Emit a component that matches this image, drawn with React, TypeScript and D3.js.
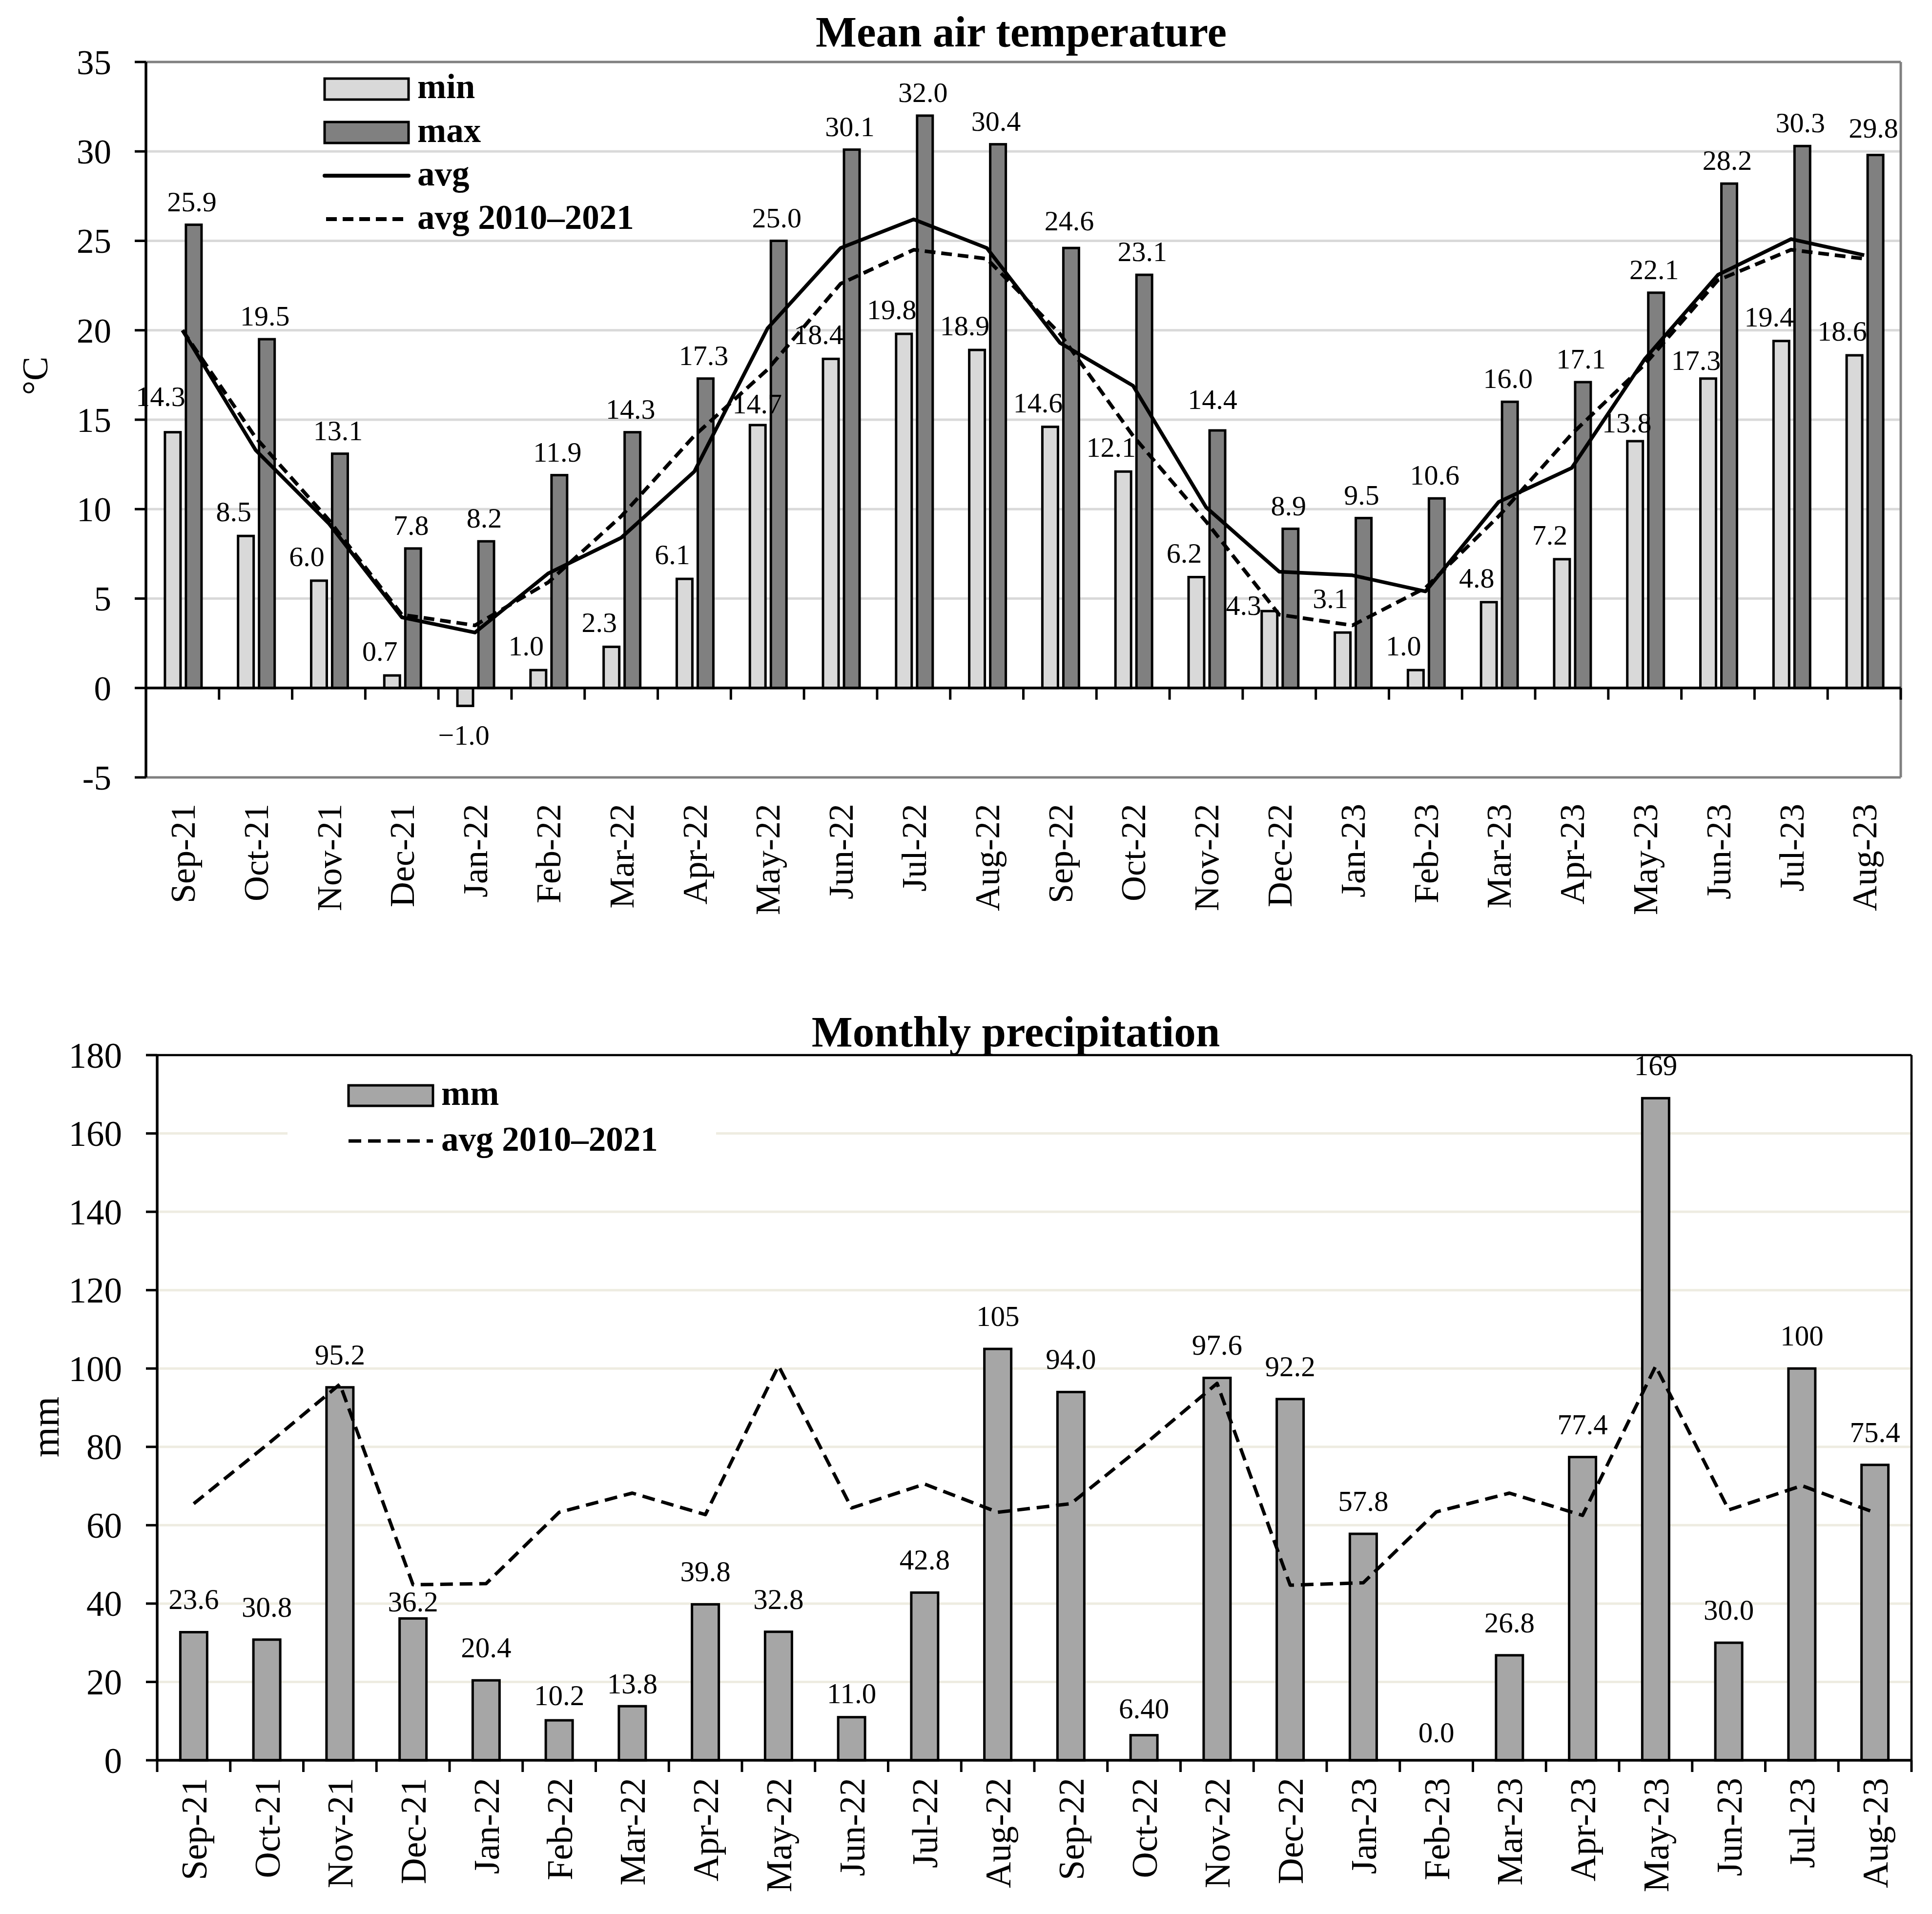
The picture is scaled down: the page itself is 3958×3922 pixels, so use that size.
import React from "react";
import * as d3 from "d3";

// ---------- DATA ----------
const categories = [
  "Sep-21", "Oct-21", "Nov-21", "Dec-21", "Jan-22", "Feb-22", "Mar-22", "Apr-22",
  "May-22", "Jun-22", "Jul-22", "Aug-22", "Sep-22", "Oct-22", "Nov-22", "Dec-22",
  "Jan-23", "Feb-23", "Mar-23", "Apr-23", "May-23", "Jun-23", "Jul-23", "Aug-23",
];

const tempMin = [14.3, 8.5, 6.0, 0.7, -1.0, 1.0, 2.3, 6.1, 14.7, 18.4, 19.8, 18.9, 14.6, 12.1, 6.2, 4.3, 3.1, 1.0, 4.8, 7.2, 13.8, 17.3, 19.4, 18.6];
const tempMax = [25.9, 19.5, 13.1, 7.8, 8.2, 11.9, 14.3, 17.3, 25.0, 30.1, 32.0, 30.4, 24.6, 23.1, 14.4, 8.9, 9.5, 10.6, 16.0, 17.1, 22.1, 28.2, 30.3, 29.8];
const tempAvg = [20.0, 13.3, 9.2, 3.95, 3.1, 6.4, 8.4, 12.1, 20.1, 24.6, 26.2, 24.6, 19.3, 16.9, 10.1, 6.5, 6.3, 5.4, 10.4, 12.3, 18.4, 23.1, 25.1, 24.2];
const tempAvgLong = [20.0, 14.0, 9.4, 4.1, 3.5, 5.9, 9.6, 14.1, 17.8, 22.6, 24.5, 24.0, 19.8, 14.1, 9.3, 4.1, 3.5, 5.6, 9.6, 14.2, 18.1, 22.8, 24.5, 24.0];
const tempTicks = [-5, 0, 5, 10, 15, 20, 25, 30, 35];

const precip = [32.7, 30.8, 95.2, 36.2, 20.4, 10.2, 13.8, 39.8, 32.8, 11.0, 42.8, 105, 94.0, 6.4, 97.6, 92.2, 57.8, 0, 26.8, 77.4, 169, 30.0, 100, 75.4];
const precipLabels = ["23.6", "30.8", "95.2", "36.2", "20.4", "10.2", "13.8", "39.8", "32.8", "11.0", "42.8", "105", "94.0", "6.40", "97.6", "92.2", "57.8", "0.0", "26.8", "77.4", "169", "30.0", "100", "75.4"];
const precipAvgLong = [65.5, 80.5, 96.0, 44.8, 45.1, 63.3, 68.2, 62.7, 100.7, 64.4, 70.5, 63.3, 65.5, 80.5, 96.2, 44.7, 45.3, 63.4, 68.2, 62.5, 100.6, 63.9, 70.1, 63.2];
const precipTicks = [0, 20, 40, 60, 80, 100, 120, 140, 160, 180];

// ---------- LAYOUT / STYLE ----------
const W = 3958;
const H = 3922;
const FONT = "'Liberation Serif', 'Times New Roman', serif";

const T = { x0: 299, x1: 3894, yTop: 127, yBot: 1593 };
const P = { x0: 322, x1: 3916, yTop: 2162, yBot: 3607 };

// label nudges (layout only)
const minNudge: Record<number, [number, number]> = { 0: [0, -24], 8: [24, 6], 15: [-28, 38], 16: [0, -20], 20: [8, 12], 21: [0, 12] };
const maxNudge: Record<number, [number, number]> = { 14: [-6, -16], 12: [0, -8], 23: [0, -8] };
const precipNudge: Record<number, number> = { 3: 33, 5: 16, 6: 21, 9: 18, 13: 12, 17: 10 };

const fmt = (v: number) => (v < 0 ? "\u2212" + Math.abs(v).toFixed(1) : v.toFixed(1));

function TempChart() {
  const x = d3.scaleBand<string>().domain(categories).range([T.x0, T.x1]).padding(0);
  const y = d3.scaleLinear().domain([-5, 35]).range([T.yBot, T.yTop]);
  const bw = x.bandwidth();
  const cx = (i: number) => (x(categories[i]) as number) + bw / 2;
  const barW = 32;
  const line = d3.line<number>().x((_, i) => cx(i)).y((d) => y(d));

  return (
    <g>
      <text x={2092} y={95} textAnchor="middle" fontFamily={FONT} fontWeight="bold" fontSize={89}>
        Mean air temperature
      </text>
      {/* gridlines */}
      {tempTicks.filter((t) => t > 0 && t < 35).map((t) => (
        <line key={t} x1={T.x0} x2={T.x1} y1={y(t)} y2={y(t)} stroke="#d9d9d9" strokeWidth={5} />
      ))}
      {/* frame */}
      <line x1={T.x0} x2={T.x1} y1={y(35)} y2={y(35)} stroke="#808080" strokeWidth={5} />
      <line x1={T.x0} x2={T.x1} y1={y(-5)} y2={y(-5)} stroke="#808080" strokeWidth={5} />
      <line x1={T.x1} x2={T.x1} y1={y(35)} y2={y(-5)} stroke="#808080" strokeWidth={5} />
      {/* bars */}
      {tempMin.map((v, i) => (
        <rect key={"mn" + i} x={cx(i) - 20 - barW / 2} width={barW}
          y={Math.min(y(v), y(0))} height={Math.abs(y(v) - y(0))}
          fill="#d9d9d9" stroke="#000" strokeWidth={5} />
      ))}
      {tempMax.map((v, i) => (
        <rect key={"mx" + i} x={cx(i) + 23 - barW / 2} width={barW}
          y={Math.min(y(v), y(0))} height={Math.abs(y(v) - y(0))}
          fill="#808080" stroke="#000" strokeWidth={5} />
      ))}
      {/* zero axis with ticks */}
      <line x1={T.x0} x2={T.x1} y1={y(0)} y2={y(0)} stroke="#000" strokeWidth={5.5} />
      {categories.map((c, i) => {
        const xx = T.x0 + (i + 1) * bw;
        return <line key={"xt" + i} x1={xx} x2={xx} y1={y(0)} y2={y(0) + 24} stroke="#000" strokeWidth={5} />;
      })}
      {/* left axis */}
      <line x1={T.x0} x2={T.x0} y1={y(35)} y2={y(-5)} stroke="#000" strokeWidth={5.5} />
      {tempTicks.map((t) => (
        <g key={"yt" + t}>
          <line x1={T.x0 - 23} x2={T.x0} y1={y(t)} y2={y(t)} stroke="#000" strokeWidth={5} />
          <text x={228} y={y(t)} dy="0.35em" textAnchor="end" fontFamily={FONT} fontSize={71}>{t}</text>
        </g>
      ))}
      <text transform="translate(71,770) rotate(-90)" textAnchor="middle" dy="0.35em" fontFamily={FONT} fontSize={74}>°C</text>
      {/* lines */}
      <path d={line(tempAvgLong) || ""} fill="none" stroke="#000" strokeWidth={7.5} strokeDasharray="22 12" strokeLinejoin="round" />
      <path d={line(tempAvg) || ""} fill="none" stroke="#000" strokeWidth={7.5} strokeLinejoin="round" />
      {/* data labels */}
      {tempMin.map((v, i) => {
        const [dx, dy] = minNudge[i] || [0, 0];
        const bx = cx(i) - 20;
        if (v < 0) {
          return <text key={"lmn" + i} x={bx - 3} y={y(v) + 80} textAnchor="middle" fontFamily={FONT} fontSize={58}>{fmt(v)}</text>;
        }
        return <text key={"lmn" + i} x={bx - 25 + dx} y={y(v) - 30 + dy} textAnchor="middle" fontFamily={FONT} fontSize={58}>{fmt(v)}</text>;
      })}
      {tempMax.map((v, i) => {
        const [dx, dy] = maxNudge[i] || [0, 0];
        return <text key={"lmx" + i} x={cx(i) + 23 - 4 + dx} y={y(v) - 28 + dy} textAnchor="middle" fontFamily={FONT} fontSize={58}>{fmt(v)}</text>;
      })}
      {/* category labels */}
      {categories.map((c, i) => (
        <text key={"cl" + i} transform={`translate(${cx(i)},1647) rotate(-90)`} textAnchor="end" dy="0.35em" fontFamily={FONT} fontSize={72}>{c}</text>
      ))}
      {/* legend */}
      <rect x={665} y={161} width={172} height={43} fill="#d9d9d9" stroke="#000" strokeWidth={5} />
      <text x={855} y={201} fontFamily={FONT} fontWeight="bold" fontSize={71}>min</text>
      <rect x={665} y={250} width={172} height={43} fill="#808080" stroke="#000" strokeWidth={5} />
      <text x={855} y={291} fontFamily={FONT} fontWeight="bold" fontSize={71}>max</text>
      <line x1={665} x2={837} y1={360} y2={360} stroke="#000" strokeWidth={8} strokeLinecap="round" />
      <text x={855} y={380} fontFamily={FONT} fontWeight="bold" fontSize={71}>avg</text>
      <line x1={668} x2={837} y1={449} y2={449} stroke="#000" strokeWidth={8} strokeDasharray="22 12" />
      <text x={855} y={469} fontFamily={FONT} fontWeight="bold" fontSize={71}>avg 2010–2021</text>
    </g>
  );
}

function PrecipChart() {
  const x = d3.scaleBand<string>().domain(categories).range([P.x0, P.x1]).padding(0);
  const y = d3.scaleLinear().domain([0, 180]).range([P.yBot, P.yTop]);
  const bw = x.bandwidth();
  const cx = (i: number) => (x(categories[i]) as number) + bw / 2;
  const barW = 55;
  const line = d3.line<number>().x((_, i) => cx(i)).y((d) => y(d));

  return (
    <g>
      <text x={2081} y={2144} textAnchor="middle" fontFamily={FONT} fontWeight="bold" fontSize={89}>
        Monthly precipitation
      </text>
      {precipTicks.filter((t) => t > 0 && t < 180).map((t) => (
        <line key={t} x1={P.x0} x2={P.x1} y1={y(t)} y2={y(t)} stroke="#eeece1" strokeWidth={5} />
      ))}
      {/* legend background */}
      <rect x={589} y={2195} width={878} height={205} fill="#fff" />
      {/* frame */}
      <line x1={P.x0} x2={P.x1} y1={y(180)} y2={y(180)} stroke="#000" strokeWidth={4.5} />
      <line x1={P.x1} x2={P.x1} y1={y(180)} y2={y(0)} stroke="#000" strokeWidth={4.5} />
      {/* bars */}
      {precip.map((v, i) => (
        v > 0 ? (
          <rect key={"pb" + i} x={cx(i) - barW / 2} width={barW} y={y(v)} height={y(0) - y(v)}
            fill="#a6a6a6" stroke="#000" strokeWidth={5} />
        ) : null
      ))}
      {/* axes */}
      <line x1={P.x0} x2={P.x1} y1={y(0)} y2={y(0)} stroke="#000" strokeWidth={5.5} />
      {d3.range(categories.length + 1).map((i) => {
        const xx = P.x0 + i * bw;
        return <line key={"pxt" + i} x1={xx} x2={xx} y1={y(0)} y2={y(0) + 24} stroke="#000" strokeWidth={5} />;
      })}
      <line x1={P.x0} x2={P.x0} y1={y(180)} y2={y(0)} stroke="#000" strokeWidth={5.5} />
      {precipTicks.map((t) => (
        <g key={"pyt" + t}>
          <line x1={P.x0 - 23} x2={P.x0} y1={y(t)} y2={y(t)} stroke="#000" strokeWidth={5} />
          <text x={250} y={y(t)} dy="0.35em" textAnchor="end" fontFamily={FONT} fontSize={73}>{t}</text>
        </g>
      ))}
      <text transform="translate(92,2924) rotate(-90)" textAnchor="middle" dy="0.35em" fontFamily={FONT} fontSize={80}>mm</text>
      {/* long-term average */}
      <path d={line(precipAvgLong) || ""} fill="none" stroke="#000" strokeWidth={7} strokeDasharray="26 14" strokeLinejoin="round" />
      {/* labels */}
      {precipLabels.map((s, i) => (
        <text key={"pl" + i} x={cx(i)} y={y(precip[i]) - 47 + (precipNudge[i] || 0)} textAnchor="middle" fontFamily={FONT} fontSize={59}>{s}</text>
      ))}
      {categories.map((c, i) => (
        <text key={"pcl" + i} transform={`translate(${cx(i)},3643) rotate(-90)`} textAnchor="end" dy="0.35em" fontFamily={FONT} fontSize={74}>{c}</text>
      ))}
      {/* legend */}
      <rect x={714} y={2224} width={173} height={42} fill="#a6a6a6" stroke="#000" strokeWidth={5} />
      <text x={904} y={2264} fontFamily={FONT} fontWeight="bold" fontSize={71}>mm</text>
      <line x1={714} x2={887} y1={2338} y2={2338} stroke="#000" strokeWidth={7} strokeDasharray="26 14" />
      <text x={904} y={2358} fontFamily={FONT} fontWeight="bold" fontSize={71}>avg 2010–2021</text>
    </g>
  );
}

export default function App() {
  return (
    <svg width={W} height={H} viewBox={`0 0 ${W} ${H}`}
      style={{ position: "absolute", left: 0, top: 0, background: "#fff" }}>
      <rect x={0} y={0} width={W} height={H} fill="#fff" />
      <TempChart />
      <PrecipChart />
    </svg>
  );
}
